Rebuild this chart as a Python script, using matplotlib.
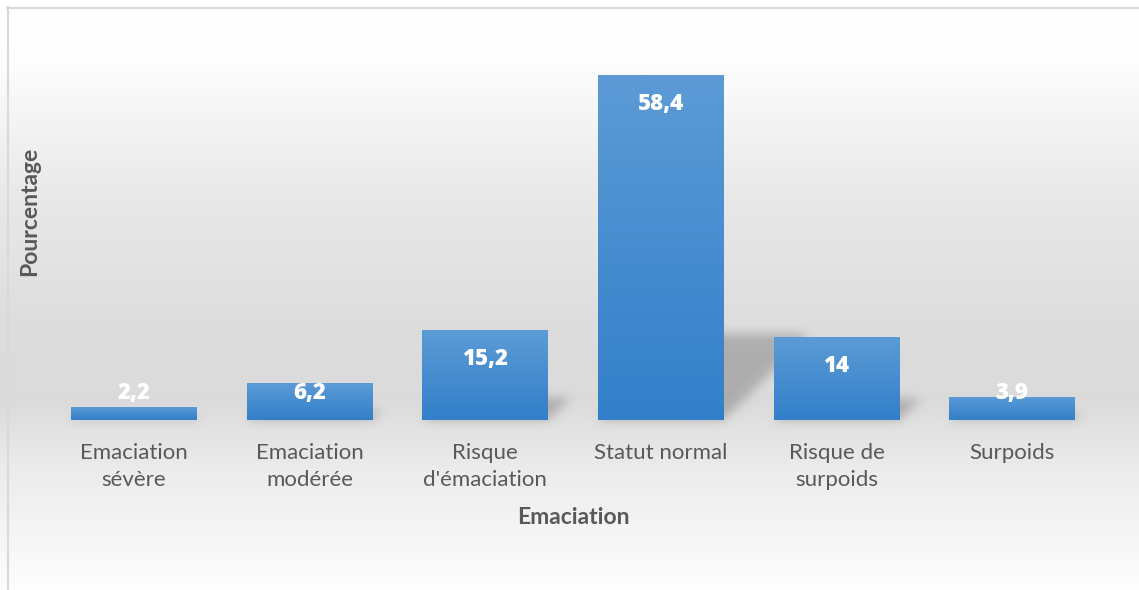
import numpy as np
import matplotlib
matplotlib.use("Agg")
import matplotlib.pyplot as plt

categories = ["Emaciation\nsévère", "Emaciation\nmodérée", "Risque\nd'émaciation",
              "Statut normal", "Risque de\nsurpoids", "Surpoids"]
values = [2.2, 6.2, 15.2, 58.4, 14, 3.9]
value_labels = ["2,2", "6,2", "15,2", "58,4", "14", "3,9"]
x_title = "Emaciation"
y_title = "Pourcentage"

plt.rcParams['font.family'] = ['Lato', 'DejaVu Sans']

W, H, DPI = 1139, 590, 100
fig = plt.figure(figsize=(W / DPI, H / DPI), dpi=DPI)

# background gradient
bg = fig.add_axes([0, 0, 1, 1], zorder=-5)
ys = np.arange(H)
nodes_y = [0, 7, 60, 190, 330, 400, 470, 590]
nodes_v = [1.0, 1.0, 0.995, 0.915, 0.865, 0.858, 0.925, 0.995]
col = np.interp(ys, nodes_y, nodes_v)
img = np.repeat(col[:, None], 4, axis=1)
bg.imshow(np.dstack([img, img, img]), aspect='auto', extent=[0, W, H, 0])
bg.set_xlim(0, W); bg.set_ylim(H, 0)
bg.axis('off')
bg.plot([7, W], [7.5, 7.5], color='#d9d9d9', lw=1.5)
bg.plot([7.5, 7.5], [7, H], color='#d9d9d9', lw=1.5)

# main axes
left, right, base_px, top_px = 46, 1100, 420, 30
ppu = 345 / 58.4
ymax = (base_px - top_px) / ppu
ax = fig.add_axes([left / W, (H - base_px) / H, (right - left) / W, (base_px - top_px) / H])
ax.set_facecolor('none')
for s in ax.spines.values():
    s.set_visible(False)
ax.set_yticks([])

x = np.arange(len(values))
bw = 0.717
bars = ax.bar(x, values, width=bw, color='#4a8fd2', zorder=3)
ax.set_xlim(-0.5, len(values) - 0.5)
ax.set_ylim(0, ymax)

# perspective shadow raster, derived from bar geometry
fig.canvas.draw()
x0d, y0d = ax.transData.transform((-0.5, 0))
x1d, y1d = ax.transData.transform((len(values) - 0.5, ymax))
above = int(round(y1d - y0d))
margin = 20
ncols = int(round(x1d - x0d))
nrows = above + margin
t = (above - np.arange(nrows) - 0.5)[:, None]
xp = (np.arange(ncols) + 0.5)[None, :]
mask = np.zeros((nrows, ncols))
k, slope = 0.25, 1.0
for b in bars:
    Lp = ax.transData.transform((b.get_x(), 0))[0] - x0d
    Rp = ax.transData.transform((b.get_x() + b.get_width(), 0))[0] - x0d
    hp = b.get_height() * (y1d - y0d) / ymax
    m = (t >= 0) & (t <= k * hp) & (xp >= Lp + slope * t) & (xp <= Rp + slope * t)
    mask = np.maximum(mask, m.astype(float))
sig = 5.0
kx = np.arange(-15, 16)
kern = np.exp(-kx ** 2 / (2 * sig ** 2)); kern /= kern.sum()
blur = np.apply_along_axis(lambda r: np.convolve(r, kern, mode='same'), 1, mask)
blur = np.apply_along_axis(lambda c: np.convolve(c, kern, mode='same'), 0, blur)
rgba = np.zeros((nrows, ncols, 4))
rgba[..., 3] = blur * 0.21
sh = ax.imshow(rgba, aspect='auto', interpolation='bilinear',
               extent=[-0.5, len(values) - 0.5, -margin * ymax / (y1d - y0d), ymax],
               zorder=1, clip_on=False)

# gradient fill for bars
grad = np.linspace(0, 1, 256)[:, None]
top_c = np.array([92, 155, 214]) / 255
bot_c = np.array([50, 127, 201]) / 255
gimg = top_c[None, None, :] * (1 - grad[:, :, None]) + bot_c[None, None, :] * grad[:, :, None]
for b in bars:
    bx, w, h = b.get_x(), b.get_width(), b.get_height()
    im = ax.imshow(gimg, aspect='auto', extent=[bx, bx + w, 0, h], origin='upper', zorder=4)
    im.set_clip_path(b)
ax.set_xlim(-0.5, len(values) - 0.5)
ax.set_ylim(0, ymax)

# value labels
for i, (v, lab) in enumerate(zip(values, value_labels)):
    yc = max(v - 29 / ppu, 27 / ppu)
    ax.text(i, yc, lab, ha='center', va='center', color='white', fontsize=16,
            fontweight='heavy', zorder=6, family=['Open Sans', 'DejaVu Sans'])

ax.set_xticks(x)
ax.set_xticklabels(categories, fontsize=16, color='#595959', linespacing=1.45)
ax.tick_params(axis='x', length=0, pad=16.5)

fig.text(573 / W, 1 - 517 / H, x_title, ha='center', va='center', fontsize=16.5,
         fontweight='bold', color='#595959')
fig.text(30 / W, 1 - 211 / H, y_title, ha='center', va='center', rotation=90,
         fontsize=16.5, fontweight='bold', color='#595959')

fig.savefig('out.png', dpi=DPI)
